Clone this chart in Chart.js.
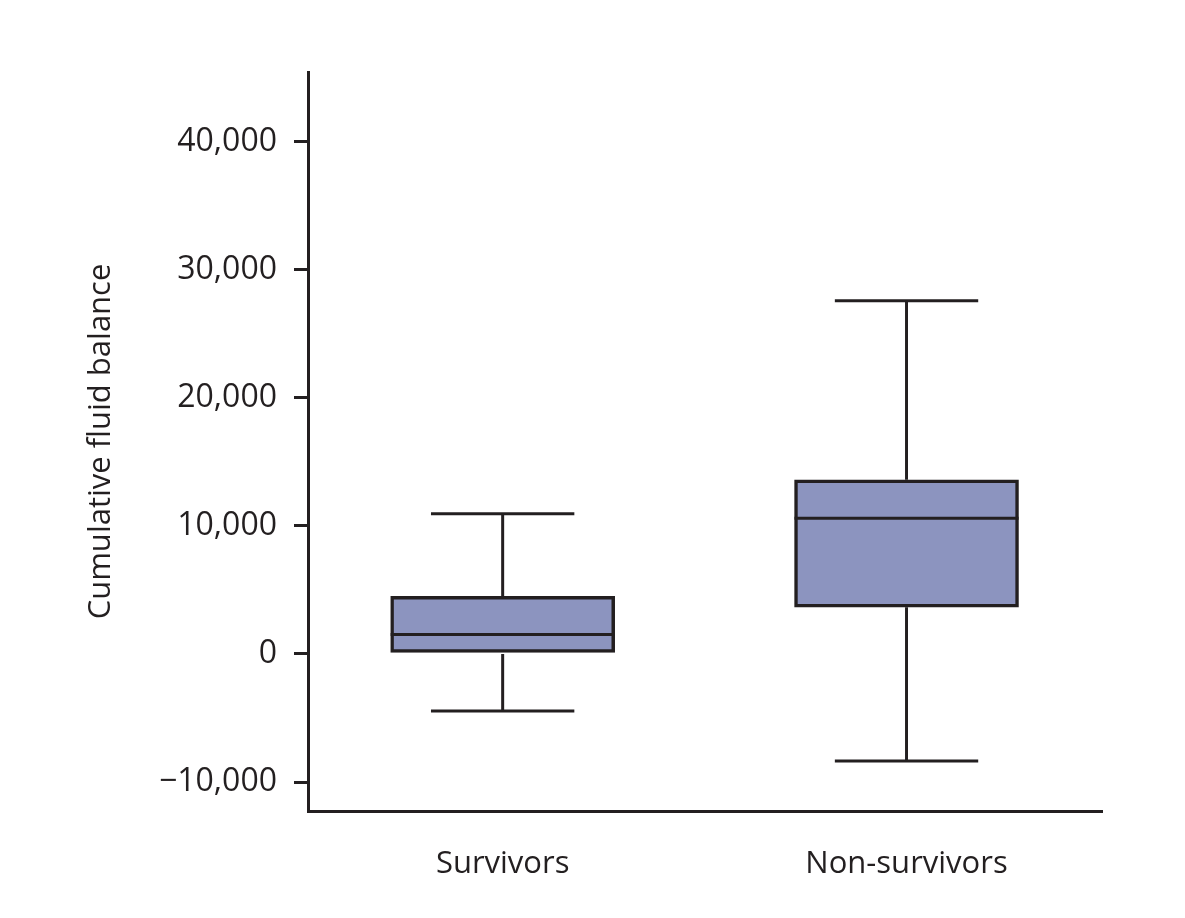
<!DOCTYPE html>
<html><head><meta charset="utf-8">
<script src="https://cdn.jsdelivr.net/npm/chart.js@4.4.1/dist/chart.umd.min.js"></script>
<style>html,body{margin:0;padding:0;background:#fff}#wrap{width:1185px;height:918px}</style>
</head><body><div id="wrap"><canvas id="c" width="1185" height="918"></canvas></div>
<script>
const categories = ['Survivors', 'Non-survivors'];
const q1Values = [0, 3650];
const q3Values = [4500, 13600];
const medianValues = [1530, 10590];
const minValues = [-4450, -8360];
const maxValues = [10940, 27580];
const yTickValues = [-10000, 0, 10000, 20000, 30000, 40000];
const yTickLabels = ['\u221210,000', '0', '10,000', '20,000', '30,000', '40,000'];

const INK = '#231f20';
const FILL = '#8c94bf';
const FAMILY = "'Open Sans', 'Noto Sans', sans-serif";

const whiskerPlugin = {
  id: 'whiskers',
  afterDatasetsDraw(chart) {
    const ctx = chart.ctx;
    const y = chart.scales.y;
    const meta = chart.getDatasetMeta(0);
    ctx.save();
    ctx.strokeStyle = INK;
    ctx.lineWidth = 3;
    ctx.lineCap = 'butt';
    const line = (x1, y1, x2, y2) => { ctx.beginPath(); ctx.moveTo(x1, y1); ctx.lineTo(x2, y2); ctx.stroke(); };
    categories.forEach((c, i) => {
      const bar = meta.data[i];
      const cx = bar.x;
      const half = bar.width / 2;
      const capHalf = bar.width * 0.32;
      const yq1 = y.getPixelForValue(q1Values[i]);
      const yq3 = y.getPixelForValue(q3Values[i]);
      const ymed = y.getPixelForValue(medianValues[i]);
      const ymin = y.getPixelForValue(minValues[i]);
      const ymax = y.getPixelForValue(maxValues[i]);
      const top = Math.min(yq1, yq3), bottom = Math.max(yq1, yq3);
      line(cx, top, cx, ymax);
      line(cx - capHalf, ymax, cx + capHalf, ymax);
      line(cx, bottom, cx, ymin);
      line(cx - capHalf, ymin, cx + capHalf, ymin);
      line(cx - half, ymed, cx + half, ymed);
    });
    ctx.restore();
  }
};

new Chart(document.getElementById('c'), {
  type: 'bar',
  data: {
    datasets: [{
      data: categories.map((c, i) => ({ x: i, y: [q1Values[i], q3Values[i]] })),
      backgroundColor: FILL,
      borderColor: INK,
      borderWidth: 3.5,
      borderSkipped: false,
      barThickness: 224
    }]
  },
  options: {
    responsive: false,
    animation: false,
    devicePixelRatio: 1,
    layout: { padding: { top: 72, right: 83, left: 0, bottom: 0 } },
    plugins: { legend: { display: false }, tooltip: { enabled: false } },
    scales: {
      x: {
        type: 'linear',
        offset: false,
        grace: 0,
        bounds: 'data',
        min: -0.482,
        max: 1.484,
        afterBuildTicks: s => { s.ticks = categories.map((c, i) => ({ value: i })); },
        afterFit: s => { s.height = 107; },
        grid: { display: true, offset: false, drawOnChartArea: false, drawTicks: false },
        border: { display: true, color: INK, width: 3 },
        ticks: {
          callback: v => categories[v],
          font: { family: FAMILY, size: 31 },
          color: INK,
          padding: 35,
          maxRotation: 0,
          autoSkip: false
        }
      },
      y: {
        type: 'linear',
        min: -12254,
        max: 45424,
        afterBuildTicks: s => { s.ticks = yTickValues.map(v => ({ value: v })); },
        afterFit: s => { s.width = 308; },
        grid: { display: true, drawOnChartArea: false, drawTicks: true, tickLength: 14, color: INK, lineWidth: 3 },
        border: { display: true, color: INK, width: 3 },
        ticks: {
          callback: v => yTickLabels[yTickValues.indexOf(v)],
          font: { family: FAMILY, size: 32 },
          color: INK,
          padding: 17,
          autoSkip: false
        },
        title: {
          display: true,
          text: 'Cumulative fluid balance',
          font: { family: FAMILY, size: 31 },
          color: INK,
          padding: { top: 83, bottom: 0 }
        }
      }
    }
  },
  plugins: [whiskerPlugin]
});
</script>
</body></html>
